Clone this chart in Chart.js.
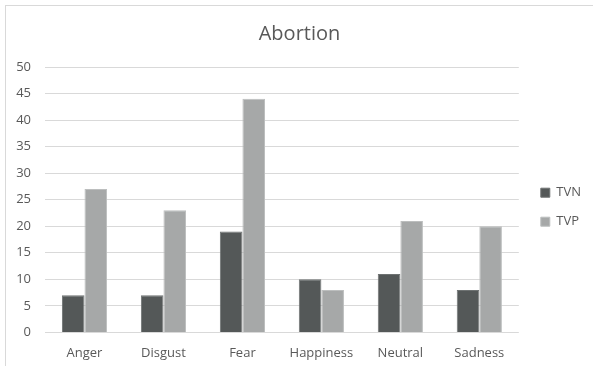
<!DOCTYPE html>
<html>
<head>
<meta charset="utf-8">
<script src="https://cdn.jsdelivr.net/npm/chart.js@4"></script>
<style>
  html, body { margin: 0; padding: 0; background: #fff; }
  .frame {
    position: absolute;
    left: 5px;
    top: 5px;
    width: 588px;
    height: 361px;
    border-left: 1px solid #d9d9d9;
    border-top: 1px solid #d9d9d9;
  }
  .frame canvas { display: block; }
</style>
</head>
<body>
<div class="frame">
  <canvas id="chart" width="587" height="360"></canvas>
</div>
<script>
  const categories = ['Anger', 'Disgust', 'Fear', 'Happiness', 'Neutral', 'Sadness'];
  const tvnValues = [7, 7, 19, 10, 11, 8];
  const tvpValues = [27, 23, 44, 8, 21, 20];
  const yTicks = { min: 0, max: 50, step: 5 };

  const textColor = '#595959';
  const fontFamily = '"Open Sans", "Liberation Sans", sans-serif';

  // push the legend a few px to the right without shrinking the plot area
  const legendNudge = {
    id: 'legendNudge',
    afterLayout(chart) {
      chart.legend.left += 6;
      chart.legend.right += 6;
    },
  };

  new Chart(document.getElementById('chart'), {
    type: 'bar',
    data: {
      labels: categories,
      datasets: [
        {
          label: 'TVN',
          data: tvnValues,
          backgroundColor: '#545858',
          borderColor: '#6e7272',
          borderWidth: 1,
          categoryPercentage: 0.572,
          barPercentage: 1,
        },
        {
          label: 'TVP',
          data: tvpValues,
          backgroundColor: '#a6a8a8',
          borderColor: '#bcbebe',
          borderWidth: 1,
          categoryPercentage: 0.572,
          barPercentage: 1,
        },
      ],
    },
    options: {
      responsive: false,
      animation: false,
      devicePixelRatio: 1,
      layout: { padding: { left: 8, right: 8, top: 8, bottom: 0 } },
      plugins: {
        title: {
          display: true,
          text: 'Abortion',
          color: textColor,
          font: { family: fontFamily, size: 20, weight: 'normal' },
          padding: { top: 8, bottom: 21 },
        },
        legend: {
          position: 'right',
          // empty title just nudges the legend items down a little
          title: { display: true, text: '', font: { size: 12 }, padding: { top: 20, bottom: 0 } },
          labels: {
            color: textColor,
            font: { family: fontFamily, size: 13 },
            boxWidth: 9,
            boxHeight: 9,
            padding: 16,
          },
        },
        tooltip: { enabled: false },
      },
      scales: {
        x: {
          grid: { display: false },
          border: { display: false },
          ticks: {
            color: textColor,
            font: { family: fontFamily, size: 13 },
            padding: 5,
          },
        },
        y: {
          min: yTicks.min,
          max: yTicks.max,
          border: { display: false },
          grid: { color: '#d9d9d9', drawTicks: false },
          ticks: {
            stepSize: yTicks.step,
            color: textColor,
            font: { family: fontFamily, size: 13 },
            padding: 14,
          },
          afterFit: (scale) => { scale.width = 31; },
        },
      },
    },
    plugins: [legendNudge],
  });
</script>
</body>
</html>
